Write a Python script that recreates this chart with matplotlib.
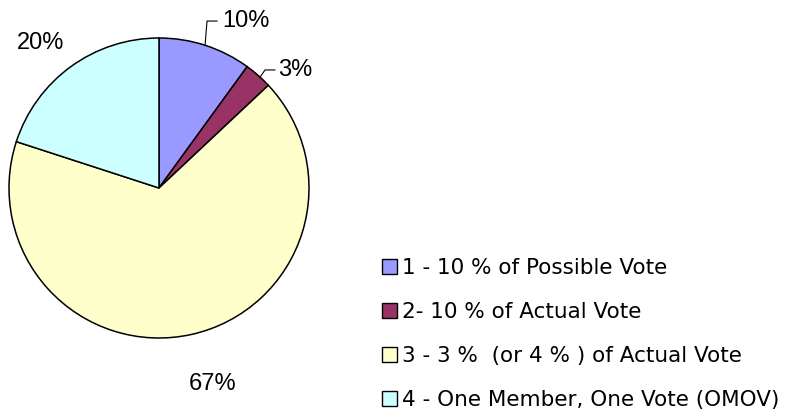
import matplotlib.pyplot as plt
from matplotlib.patches import Patch

# data
categories = ["1 - 10 % of Possible Vote", "2- 10 % of Actual Vote",
              "3 - 3 %  (or 4 % ) of Actual Vote", "4 - One Member, One Vote (OMOV)"]
shares = [10, 3, 67, 20]
pct_labels = ["10%", "3%", "67%", "20%"]
colors = ["#9999FF", "#993366", "#FFFFCC", "#CCFFFF"]

fig = plt.figure(figsize=(7.87, 4.09), dpi=100)
ax = fig.add_axes([9 / 787, 71 / 409, 300 / 787, 300 / 409])

wedges, _ = ax.pie(shares, colors=colors, startangle=90, counterclock=False,
                   radius=1, wedgeprops=dict(edgecolor="black", linewidth=1.1))
ax.set_xlim(-1, 1)
ax.set_ylim(-1, 1)
ax.set_aspect("equal")
ax.axis("off")

# label positions (data coords) and leader lines for the small slices
label_pos = [(0.42, 1.113), (0.793, 0.787), (0.36, -1.307), (-0.787, 0.967)]
leaders = {0: [(0.307, 0.95), (0.32, 1.113), (0.387, 1.113)],
           1: [(0.673, 0.738), (0.707, 0.787), (0.773, 0.787)]}

for i, lab in enumerate(pct_labels):
    x, y = label_pos[i]
    ha = "left" if i in leaders else "center"
    ax.text(x, y, lab, ha=ha, va="center", fontsize=17,
            family="Liberation Sans", clip_on=False)
    if i in leaders:
        xs, ys = zip(*leaders[i])
        ax.plot(xs, ys, color="black", linewidth=0.8, clip_on=False)

handles = [Patch(facecolor=c, edgecolor="black", linewidth=1.0) for c in colors]
fig.legend(handles, categories, loc="upper left", bbox_to_anchor=(373 / 787, 1 - 249 / 409),
           frameon=False, handlelength=0.7, handleheight=0.7,
           handletextpad=0.25, labelspacing=1.12, borderaxespad=0,
           prop={"family": "DejaVu Sans", "size": 15.5})

fig.savefig("out.png", dpi=100)
